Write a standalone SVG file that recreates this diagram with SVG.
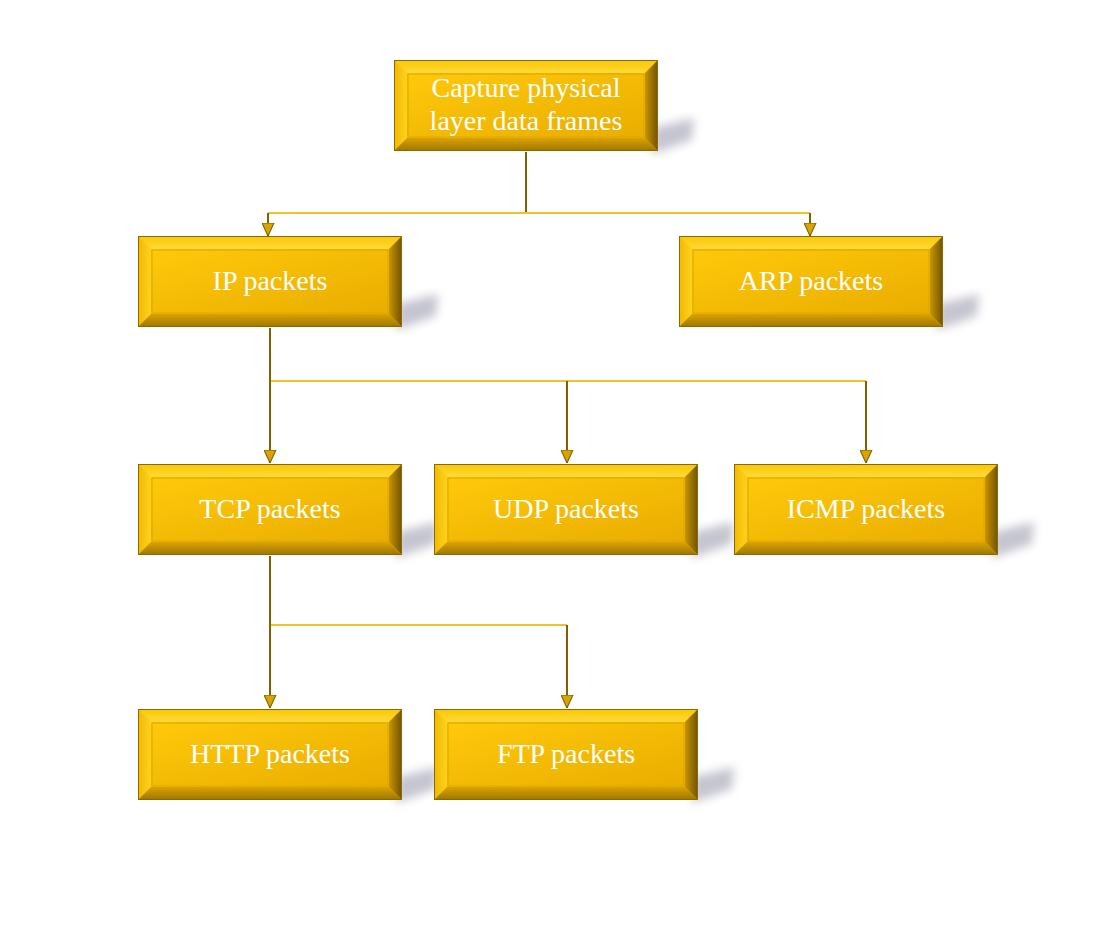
<svg xmlns="http://www.w3.org/2000/svg" xmlns:xlink="http://www.w3.org/1999/xlink" width="1115" height="926" viewBox="0 0 1115 926">
<style>
.lbl{font-family:"Liberation Serif","Times New Roman",serif;font-size:28px;fill:#ffffff;text-anchor:middle}
.stem{stroke:#7f6000;stroke-width:2;fill:none}
.bar{stroke:#f2c12e;stroke-width:2;fill:none}
</style>
<defs>
<filter id="blur" x="-50%" y="-50%" width="200%" height="200%"><feGaussianBlur stdDeviation="5"/></filter>
<linearGradient id="face" x1="0" y1="0" x2="1" y2="1"><stop offset="0" stop-color="#ffc90a"/><stop offset="1" stop-color="#e9ad00"/></linearGradient>
<linearGradient id="topb" x1="0" y1="0" x2="0" y2="1"><stop offset="0" stop-color="#f8c800"/><stop offset="1" stop-color="#ffd93a"/></linearGradient>
<linearGradient id="botb" x1="0" y1="0" x2="0" y2="1"><stop offset="0" stop-color="#dca200"/><stop offset="1" stop-color="#9c7600"/></linearGradient>
<linearGradient id="rightb" x1="0" y1="0" x2="1" y2="0"><stop offset="0" stop-color="#c89400"/><stop offset="1" stop-color="#6e5200"/></linearGradient>
<linearGradient id="leftb" x1="0" y1="0" x2="1" y2="0"><stop offset="0" stop-color="#f0b800"/><stop offset="1" stop-color="#ffd21e"/></linearGradient>
<marker id="arr" viewBox="0 0 12 12" refX="12" refY="6" markerWidth="13" markerHeight="13" markerUnits="userSpaceOnUse" orient="auto">
<path d="M0,0.5 L12,6 L0,11.5 z" fill="#d9a400" stroke="#7f6000" stroke-width="1"/>
</marker>
<g id="box">
<polygon points="258,68 300,58 298,80 258,94" fill="#80809a" opacity="0.45" filter="url(#blur)"/>
<rect x="0" y="0" width="264" height="91" fill="url(#face)"/>
<polygon points="0,0 264,0 251,13 13,13" fill="url(#topb)"/>
<polygon points="0,0 13,13 13,78 0,91" fill="url(#leftb)"/>
<polygon points="264,0 264,91 251,78 251,13" fill="url(#rightb)"/>
<polygon points="0,91 264,91 251,78 13,78" fill="url(#botb)"/>
<rect x="14" y="14" width="236" height="63" fill="url(#face)" stroke="#dba600" stroke-width="1"/>
<rect x="0.5" y="0.5" width="263" height="90" fill="none" stroke="#8a6a00" stroke-width="1"/>
</g>
</defs>
<rect width="1115" height="926" fill="#ffffff"/>
<g id="connectors">
<path class="stem" d="M526,152 V213"/>
<path class="bar" d="M268,213 H810"/>
<path class="stem" d="M268,213 V236" marker-end="url(#arr)"/>
<path class="stem" d="M810,213 V236" marker-end="url(#arr)"/>
<path class="stem" d="M270,328 V463" marker-end="url(#arr)"/>
<path class="bar" d="M271,381 H866"/>
<path class="stem" d="M567,381 V463" marker-end="url(#arr)"/>
<path class="stem" d="M866,381 V463" marker-end="url(#arr)"/>
<path class="stem" d="M270,556 V708" marker-end="url(#arr)"/>
<path class="bar" d="M271,625 H567"/>
<path class="stem" d="M567,625 V708" marker-end="url(#arr)"/>
</g>
<g id="n-capture" transform="translate(394,60)"><use xlink:href="#box"/><text class="lbl" x="132" y="37">Capture physical</text><text class="lbl" x="132" y="70">layer data frames</text></g>
<g id="n-ip" transform="translate(138,236)"><use xlink:href="#box"/><text class="lbl" x="132" y="54">IP packets</text></g>
<g id="n-arp" transform="translate(679,236)"><use xlink:href="#box"/><text class="lbl" x="132" y="54">ARP packets</text></g>
<g id="n-tcp" transform="translate(138,464)"><use xlink:href="#box"/><text class="lbl" x="132" y="54">TCP packets</text></g>
<g id="n-udp" transform="translate(434,464)"><use xlink:href="#box"/><text class="lbl" x="132" y="54">UDP packets</text></g>
<g id="n-icmp" transform="translate(734,464)"><use xlink:href="#box"/><text class="lbl" x="132" y="54">ICMP packets</text></g>
<g id="n-http" transform="translate(138,709)"><use xlink:href="#box"/><text class="lbl" x="132" y="54">HTTP packets</text></g>
<g id="n-ftp" transform="translate(434,709)"><use xlink:href="#box"/><text class="lbl" x="132" y="54">FTP packets</text></g>
</svg>
